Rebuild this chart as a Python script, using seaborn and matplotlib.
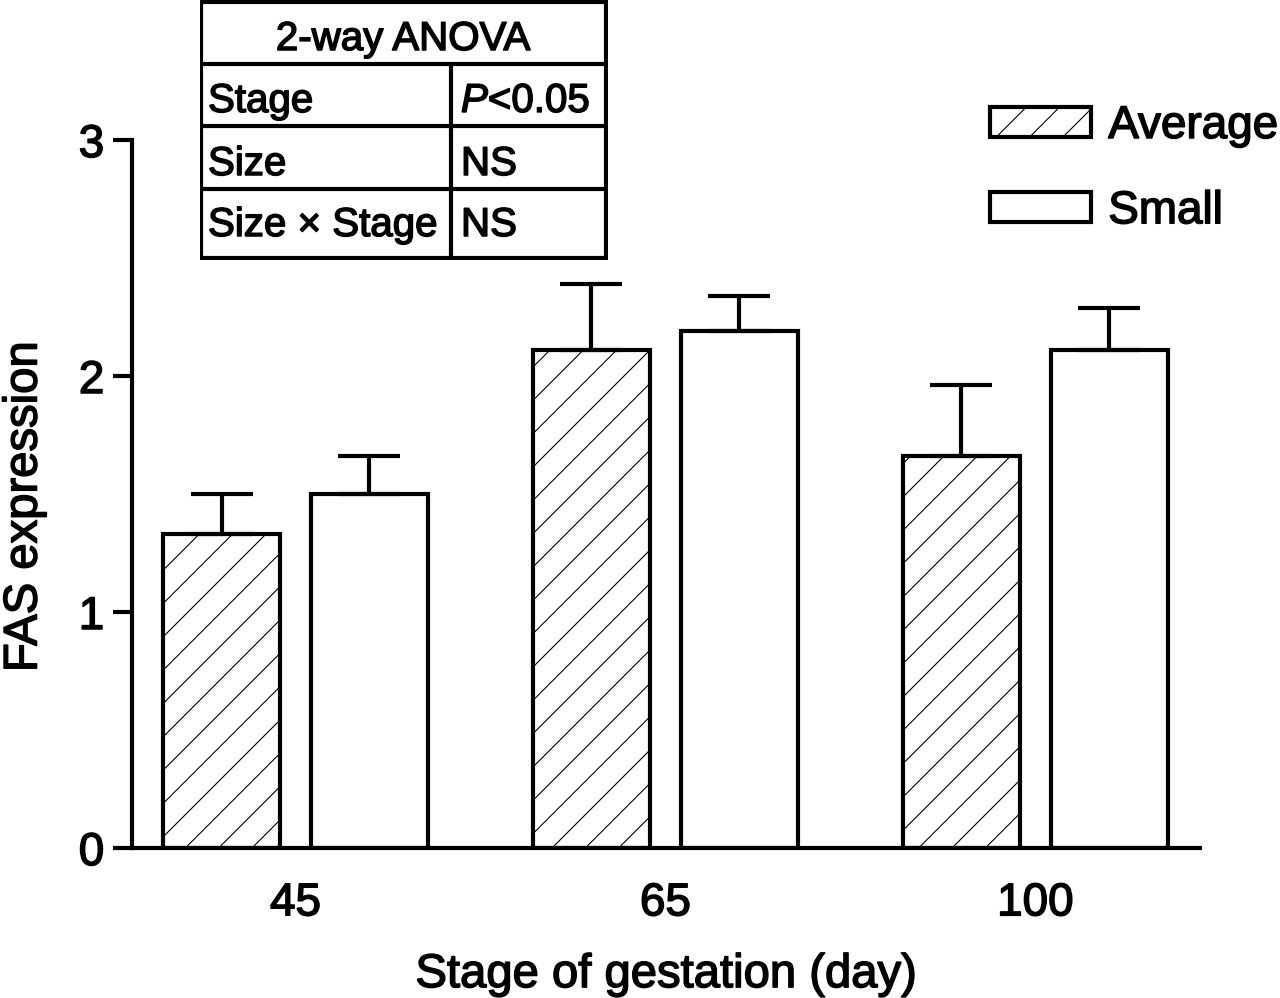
import numpy as np
import pandas as pd
import matplotlib
matplotlib.use('Agg')
import matplotlib.pyplot as plt
import matplotlib.patheffects as pe
import seaborn as sns
from matplotlib.patches import Patch

# 数据
stages = ['45', '65', '100']
groups = ['Average', 'Small']
avg_mean = [1.33, 2.11, 1.66]
avg_err = [0.17, 0.28, 0.30]
small_mean = [1.50, 2.19, 2.11]
small_err = [0.16, 0.15, 0.18]

anova_title = '2-way ANOVA'
anova_rows = ['Stage', 'Size', 'Size \u00d7 Stage']
anova_vals = ['$\\it{P}$<0.05', 'NS', 'NS']

sns.set_style('ticks')
plt.rcParams['font.family'] = ['Liberation Sans', 'DejaVu Sans']
plt.rcParams['mathtext.fontset'] = 'custom'
plt.rcParams['mathtext.it'] = 'Liberation Sans:italic'
plt.rcParams['mathtext.rm'] = 'Liberation Sans'
plt.rcParams['hatch.color'] = 'black'
plt.rcParams['hatch.linewidth'] = 0.8
for k in ['text.color', 'axes.labelcolor', 'xtick.color', 'ytick.color', 'axes.edgecolor']:
    plt.rcParams[k] = 'black'

df = pd.DataFrame({
    'stage': stages * 2,
    'size': ['Average'] * 3 + ['Small'] * 3,
    'value': avg_mean + small_mean,
})
errs = {'Average': avg_err, 'Small': small_err}

fig = plt.figure(figsize=(12.8, 9.98), dpi=100)
ax = fig.add_axes([132 / 1280, 150 / 998, 1068 / 1280, 708 / 998])

sns.barplot(data=df, x='stage', y='value', hue='size', order=stages,
            hue_order=groups, palette=['white', 'white'], edgecolor='black',
            linewidth=3, errorbar=None, width=0.8, gap=0.21, legend=False,
            saturation=1, ax=ax)

for cont, g in zip(ax.containers, groups):
    xs, hs = [], []
    for bar in cont:
        if g == 'Average':
            bar.set_hatch('/')
        xs.append(bar.get_x() + bar.get_width() / 2)
        hs.append(bar.get_height())
    ax.errorbar(xs, hs, yerr=[np.zeros(len(hs)), errs[g]], fmt='none',
                ecolor='black', elinewidth=3, capsize=22, capthick=3, zorder=1)

ax.set_xlim(-0.442, 2.445)
ax.set_ylim(0, 3)
ax.set_yticks([0, 1, 2, 3])
sns.despine(ax=ax)
for s in ['left', 'bottom']:
    ax.spines[s].set_linewidth(3)
ax.tick_params(axis='y', length=14, width=3, pad=6, labelsize=33)
ax.tick_params(axis='x', length=0, pad=24, labelsize=33)
ax.set_xlabel('Stage of gestation (day)', fontsize=34, labelpad=20)
ax.set_ylabel('FAS expression', fontsize=34)
ax.yaxis.set_label_coords(-0.080, 0.482)

# 图例
handles = [Patch(facecolor='white', edgecolor='black', hatch='/', linewidth=3),
           Patch(facecolor='white', edgecolor='black', linewidth=3)]
fig.legend(handles, groups, loc='upper left', bbox_to_anchor=(990 / 1280, 1 - 104 / 998),
           frameon=False, fontsize=33, handlelength=2.2, handleheight=0.62,
           handletextpad=0.38, labelspacing=0.9, borderpad=0, borderaxespad=0)

# ANOVA 表
tax = fig.add_axes([200 / 1280, 1 - 260 / 998, 408 / 1280, 260 / 998])
tax.set_xlim(0, 408)
tax.set_ylim(260, 0)
tax.axis('off')
lw = 3
ys = [2, 64, 126, 189, 258]
baselines = [50, 112, 175, 236]
for y in ys:
    tax.plot([1, 406], [y, y], color='black', lw=lw, solid_capstyle='projecting')
for x in [1, 406]:
    tax.plot([x, x], [ys[0], ys[-1]], color='black', lw=lw, solid_capstyle='projecting')
tax.plot([251, 251], [ys[1], ys[-1]], color='black', lw=lw)
tax.text(203, baselines[0], anova_title, ha='center', va='baseline', fontsize=29)
for i, (r, v) in enumerate(zip(anova_rows, anova_vals)):
    tax.text(8, baselines[i + 1], r, ha='left', va='baseline', fontsize=29)
    tax.text(261, baselines[i + 1], v, ha='left', va='baseline', fontsize=29)

# 文字加粗一点, 接近原图
for t in fig.findobj(matplotlib.text.Text):
    t.set_path_effects([pe.withStroke(linewidth=1.1, foreground='black')])

fig.savefig('out.png', dpi=100)
